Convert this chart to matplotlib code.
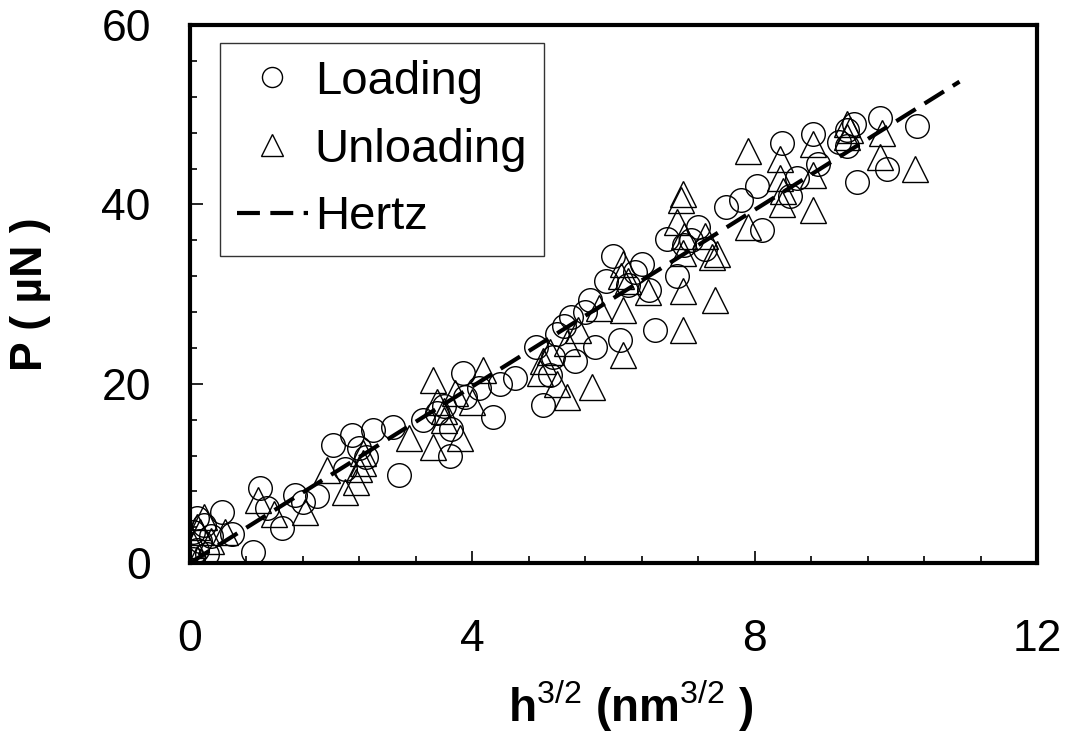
import matplotlib
matplotlib.use("Agg")
import matplotlib.pyplot as plt
from matplotlib.ticker import MultipleLocator

plt.rcParams['font.family'] = ['Liberation Sans', 'DejaVu Sans']
plt.rcParams['mathtext.fontset'] = 'custom'
plt.rcParams['mathtext.rm'] = 'Liberation Sans'
plt.rcParams['mathtext.it'] = 'Liberation Sans'

# loading points (h^3/2, P)
load_x = [0.05, 0.1, 0.15, 0.05, 0.2, 0.3, 0.45, 0.9, 1.0, 1.3, 1.1, 1.49, 1.8,
          2.03, 2.3, 2.6, 2.2, 2.5, 2.97, 2.88, 3.3, 3.6, 3.68, 3.87, 3.9, 4.1,
          4.3, 4.6, 4.9, 5.0, 5.1, 5.2, 5.4, 5.45, 5.74, 5.67, 5.9, 5.99, 6.09,
          6.4, 6.59, 6.5, 6.76, 6.9, 7.2, 7.3, 7.6, 8.03, 8.1, 8.39, 8.82, 8.5,
          9.3, 9.3, 9.45, 9.77, 9.87, 10.3, 0.6, 1.6, 4.4, 5.3, 6.2, 7.0, 7.8,
          8.9, 0.1, 0.25, 2.4, 3.5, 3.7, 5.15, 5.6, 6.3, 7.1, 8.6, 9.2, 9.4]
load_y = [0.5, 1.5, 2.5, 3.5, 4.2, 3.0, 5.7, 1.2, 8.4, 3.9, 6.2, 7.6, 7.5,
          13.2, 14.3, 14.8, 10.5, 11.8, 9.8, 15.2, 16.0, 17.5, 12.0, 21.2, 18.5,
          19.5, 16.3, 20.6, 24.1, 17.6, 21.0, 25.5, 27.5, 22.5, 24.1, 29.3, 31.5,
          34.3, 24.9, 33.4, 26.0, 30.5, 36.2, 32.0, 37.5, 35.0, 39.7, 42.1, 37.1,
          46.9, 47.9, 41.0, 48.3, 46.5, 42.5, 49.6, 44.0, 48.8, 3.2, 6.8, 20.0,
          26.5, 31.0, 35.5, 40.5, 44.5, 5.0, 1.0, 12.8, 16.8, 15.0, 23.0, 28.0,
          32.5, 36.0, 43.0, 47.0, 49.0]

# unloading points
unload_x = [0.1, 0.05, 0.2, 0.15, 0.3, 0.5, 0.96, 1.2, 1.63, 1.94, 2.2, 2.45,
            2.4, 2.35, 3.1, 3.44, 3.44, 3.5, 3.6, 3.82, 3.75, 4.15, 4.0, 4.96,
            5.1, 5.34, 5.34, 5.2, 5.5, 5.7, 5.8, 6.13, 6.13, 6.13, 6.2, 6.49,
            6.98, 6.98, 6.98, 6.95, 6.9, 7.4, 7.44, 7.3, 7.9, 7.9, 8.36, 8.36,
            8.39, 8.82, 8.82, 8.82, 9.3, 9.3, 9.8, 9.77, 10.27, 6.98, 7.46,
            0.1, 2.45, 3.6, 5.0, 6.1, 7.0, 8.4, 9.35]
unload_y = [0.5, 2.0, 5.1, 3.5, 2.5, 3.5, 7.0, 5.5, 5.7, 10.4, 7.9, 12.3,
            10.5, 9.0, 14.0, 12.9, 20.4, 18.0, 16.0, 14.0, 19.0, 21.5, 18.0, 21.2,
            23.5, 24.5, 18.5, 20.0, 26.0, 19.6, 28.5, 33.4, 28.2, 23.2, 31.5, 30.2,
            34.6, 30.4, 26.0, 40.5, 38.0, 34.1, 29.3, 36.5, 46.0, 37.5, 45.1, 43.0,
            40.1, 46.8, 43.3, 39.4, 49.0, 47.5, 48.0, 45.3, 44.0, 41.2, 34.5,
            4.0, 11.2, 17.0, 22.5, 32.0, 36.5, 41.5, 48.3]

# Hertz fit
hertz_x = [0.0, 10.9]
hertz_y = [0.0, 53.7]

fig = plt.figure(figsize=(10.66, 7.4), dpi=100)
ax = fig.add_axes([0.178, 0.239, 0.795, 0.727])

ax.plot(load_x, load_y, 'o', mfc='none', mec='black', ms=17, mew=1.0,
        linestyle='none', label='Loading')
ax.plot(unload_x, unload_y, '^', mfc='none', mec='black', ms=19, mew=1.0,
        linestyle='none', label='Unloading')
ax.plot(hertz_x, hertz_y, color='black', lw=3, dashes=(5.5, 2.5), label='Hertz')

ax.set_xlim(0, 12)
ax.set_ylim(0, 60)
ax.xaxis.set_major_locator(MultipleLocator(4))
ax.xaxis.set_minor_locator(MultipleLocator(0.8))
ax.yaxis.set_major_locator(MultipleLocator(20))
ax.yaxis.set_minor_locator(MultipleLocator(4))
ax.tick_params(which='both', direction='in', top=False, right=False, width=1.2)
ax.tick_params(which='major', length=9)
ax.tick_params(which='minor', length=5)
ax.tick_params(axis='x', which='major', labelsize=32, pad=40)
ax.tick_params(axis='y', which='major', labelsize=32, pad=28)
for s in ax.spines.values():
    s.set_linewidth(3)

ax.set_xlabel(r'h$^{3/2}$ (nm$^{3/2}$ )', fontsize=33, fontweight='bold', labelpad=6)
ax.xaxis.set_label_coords(0.52, -0.215)
ax.set_ylabel('P ( \u00b5N )', fontsize=32, fontweight='bold', labelpad=36)

leg = ax.legend(loc='upper left', bbox_to_anchor=(0.036, 0.966), fontsize=34,
                frameon=True, fancybox=False, edgecolor='black',
                handlelength=1.5, handletextpad=0.15, borderpad=0.35,
                borderaxespad=0.0, labelspacing=0.5, markerscale=0.85)
leg.get_frame().set_linewidth(1.0)

fig.savefig('out.png', dpi=100)
